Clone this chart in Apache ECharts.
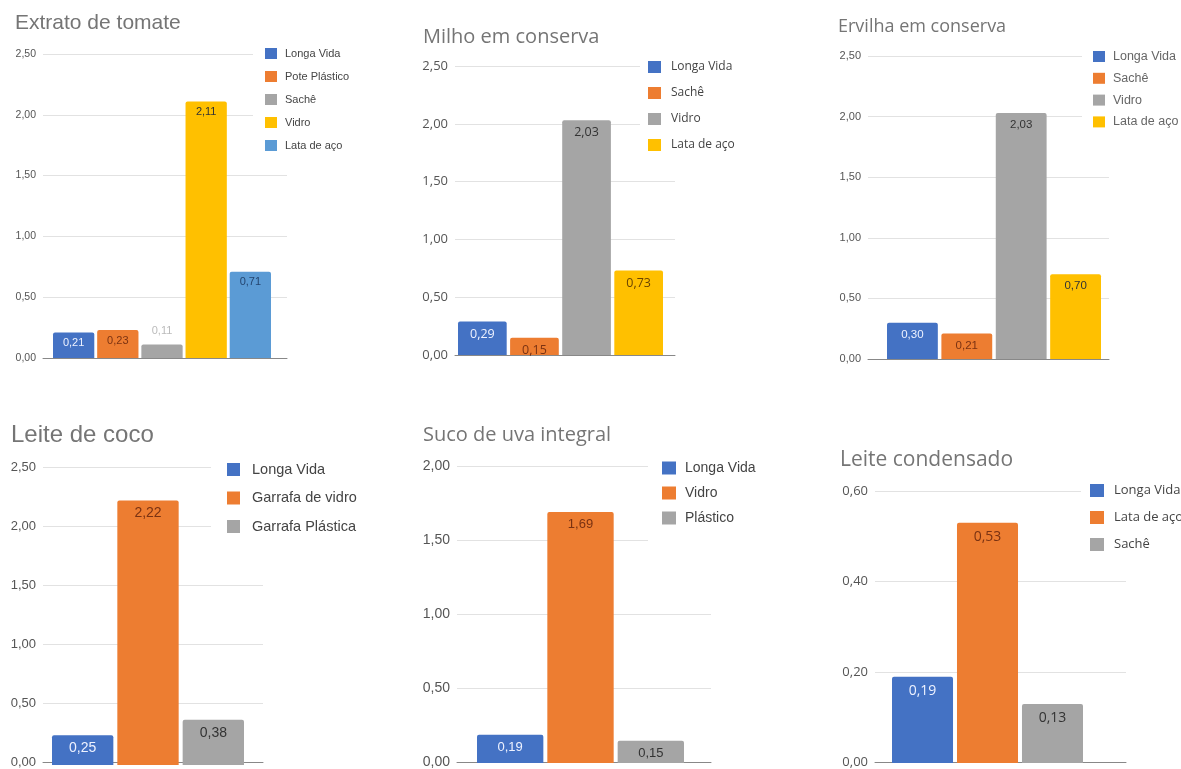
<!DOCTYPE html>
<html><head><meta charset="utf-8">
<script src="https://cdn.jsdelivr.net/npm/echarts@6/dist/echarts.min.js"></script>
<style>
html,body{margin:0;padding:0;background:#fff;width:1181px;height:769px;overflow:hidden}
.c{position:absolute;left:0;top:0;width:1181px;height:769px}
</style>
</head><body>
<div id="c0" class="c"></div><div id="c1" class="c"></div><div id="c2" class="c"></div>
<div id="c3" class="c"></div><div id="c4" class="c"></div><div id="c5" class="c"></div>
<script>
// ---- DATA ----
const titles = ['Extrato de tomate','Milho em conserva','Ervilha em conserva','Leite de coco','Suco de uva integral','Leite condensado'];
const namesTomate = ['Longa Vida','Pote Plástico','Sachê','Vidro','Lata de aço'];
const valuesTomate = [0.21,0.23,0.11,2.11,0.71];
const namesMilho = ['Longa Vida','Sachê','Vidro','Lata de aço'];
const valuesMilho = [0.29,0.15,2.03,0.73];
const namesErvilha = ['Longa Vida','Sachê','Vidro','Lata de aço'];
const valuesErvilha = [0.30,0.21,2.03,0.70];
const namesCoco = ['Longa Vida','Garrafa de vidro','Garrafa Plástica'];
const valuesCoco = [0.25,2.22,0.38];
const namesUva = ['Longa Vida','Vidro','Plástico'];
const valuesUva = [0.19,1.69,0.15];
const namesCondensado = ['Longa Vida','Lata de aço','Sachê'];
const valuesCondensado = [0.19,0.53,0.13];
const yMax = [2.5,2.5,2.5,2.5,2.0,0.6];
const yStep = [0.5,0.5,0.5,0.5,0.5,0.2];

const allNames = [namesTomate,namesMilho,namesErvilha,namesCoco,namesUva,namesCondensado];
const allValues = [valuesTomate,valuesMilho,valuesErvilha,valuesCoco,valuesUva,valuesCondensado];

// ---- STYLE ----
const BLUE='#4472C4',ORANGE='#ED7D31',GRAY='#A5A5A5',YELLOW='#FFC000',LBLUE='#5B9BD5';
const AR='Liberation Sans', OS='Open Sans';
const OL='#7a3212';
const fmt = v => Number(v).toFixed(2).replace('.', ',');
const layouts = [
 {grid:{left:43,right:894,top:54,bottom:411}, bars:{left:53,right:1181-271},
  title:{left:15,top:13,size:21,font:AR},
  legend:{left:253,top:43,pad:[5,20,10,12],iw:12,ih:11,gap:12,fs:11,tp:3,font:AR,color:'#444'}, axisFs:10.5, axisFont:AR, lblFs:11, lblFont:AR,
  colors:[BLUE,ORANGE,GRAY,YELLOW,LBLUE], lblColors:['#eef2ff',OL,'#bbb','#333','#24456f'], outside:[false,false,true,false,false],
  barGap:'7%', dist:5},
 {grid:{left:455,right:506,top:66,bottom:414}, bars:{left:458,right:1181-663},
  title:{left:423,top:27,size:20,font:OS},
  legend:{left:640,top:56,pad:[5,20,10,8],iw:13,ih:12,gap:14,fs:12,tp:5,font:OS,color:'#444'}, axisFs:13, axisFont:OS, lblFs:12.5, lblFont:OS,
  colors:[BLUE,ORANGE,GRAY,YELLOW], lblColors:['#eef2ff',OL,'#333','#6a4400'], outside:[false,false,false,false],
  barGap:'7%', dist:6},
 {grid:{left:868,right:72,top:56,bottom:410}, bars:{left:887,right:1181-1101},
  title:{left:838,top:18,size:18,font:OS},
  legend:{left:1082,top:45,pad:[5,20,8,11],iw:12,ih:11,gap:8.8,fs:12.5,tp:3,font:AR,color:'#666'}, axisFs:11, axisFont:AR, lblFs:11.5, lblFont:AR,
  colors:[BLUE,ORANGE,GRAY,YELLOW], lblColors:['#eef2ff',OL,'#333','#333'], outside:[false,false,false,false],
  barGap:'7%', dist:6},
 {grid:{left:43,right:918,top:467,bottom:4}, bars:{left:52,right:1181-244},
  title:{left:11,top:423,size:24,font:AR},
  legend:{left:211,top:457,pad:[5,20,10,16],iw:13,ih:13,gap:13.5,fs:14.5,tp:7,font:AR,color:'#444'}, axisFs:13, axisFont:AR, lblFs:14, lblFont:AR,
  colors:[BLUE,ORANGE,GRAY], lblColors:['#eef2ff',OL,'#333'], outside:[false,false,false],
  barGap:'6.5%', dist:6},
 {grid:{left:457,right:470,top:466,bottom:6}, bars:{left:477,right:1181-684},
  title:{left:423,top:425,size:20,font:OS},
  legend:{left:648,top:456,pad:[5,20,22,14],iw:14,ih:13,gap:11,fs:14,tp:4,font:AR,color:'#444'}, axisFs:14, axisFont:AR, lblFs:13, lblFont:AR,
  colors:[BLUE,ORANGE,GRAY], lblColors:['#eef2ff',OL,'#333'], outside:[false,false,false],
  barGap:'6%', dist:6},
 {grid:{left:875,right:55,top:491,bottom:6}, bars:{left:892,right:1181-1083},
  title:{left:840,top:450,size:21,font:OS},
  legend:{left:1081,top:479,pad:[5,20,10,9],iw:14,ih:13,gap:14,fs:13,tp:5,font:OS,color:'#444'}, axisFs:13, axisFont:OS, lblFs:14, lblFont:OS,
  colors:[BLUE,ORANGE,GRAY], lblColors:['#eef2ff',OL,'#333'], outside:[false,false,false],
  barGap:'6.5%', dist:7}
];

function build(i){
  const L = layouts[i];
  const names = allNames[i], vals = allValues[i];
  const chart = echarts.init(document.getElementById('c'+i), null, {renderer:'canvas'});
  const series = names.map((n,k)=>({
    name:n, type:'bar', data:[vals[k]], xAxisIndex:1, yAxisIndex:1,
    barGap:L.barGap, barCategoryGap:'0%',
    itemStyle:{color:L.colors[k], borderRadius:[2,2,0,0]},
    label:{show:true, position:L.outside[k]?'top':'insideTop', distance:L.outside[k]?8:L.dist,
      color:L.lblColors[k], fontSize:L.lblFs, fontFamily:L.lblFont, formatter:p=>fmt(p.value)},
    emphasis:{disabled:true}
  }));
  chart.setOption({
    animation:false,
    backgroundColor:'transparent',
    title:{text:titles[i], left:L.title.left, top:L.title.top, padding:0,
      textStyle:{fontSize:L.title.size, fontWeight:'normal', color:'#757575', fontFamily:L.title.font}},
    grid:[
      {left:L.grid.left, right:L.grid.right, top:L.grid.top, bottom:L.grid.bottom},
      {left:L.bars.left, right:L.bars.right, top:L.grid.top, bottom:L.grid.bottom}
    ],
    legend:{orient:'vertical', left:L.legend.left, top:L.legend.top, padding:L.legend.pad,
      backgroundColor:'#fff', itemWidth:L.legend.iw, itemHeight:L.legend.ih, itemGap:L.legend.gap,
      icon:'rect', data:names, selectedMode:false,
      textStyle:{fontSize:L.legend.fs, color:L.legend.color, fontFamily:L.legend.font, padding:[0,0,0,L.legend.tp]}},
    xAxis:[
      {gridIndex:0, type:'category', data:[''], axisTick:{show:false}, axisLabel:{show:false},
       axisLine:{show:true, lineStyle:{color:'#888', width:1}}},
      {gridIndex:1, type:'category', data:[''], show:false}
    ],
    yAxis:[
      {gridIndex:0, type:'value', min:0, max:yMax[i], interval:yStep[i],
       axisLine:{show:false}, axisTick:{show:false},
       splitLine:{lineStyle:{color:'#e2e2e2'}},
       axisLabel:{formatter:fmt, color:'#555', fontSize:L.axisFs, fontFamily:L.axisFont, margin:7}},
      {gridIndex:1, type:'value', min:0, max:yMax[i], interval:yStep[i], show:false, splitLine:{show:false}}
    ],
    series:series
  });
}
for(let i=0;i<6;i++) build(i);
</script>
</body></html>
